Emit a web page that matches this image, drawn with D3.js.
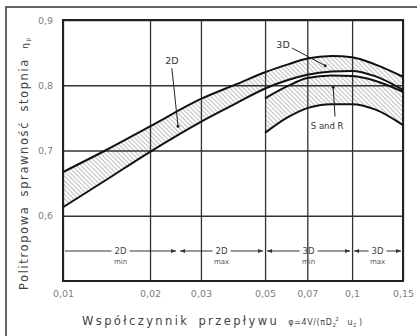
<!DOCTYPE html>
<html>
<head>
<meta charset="utf-8">
<script src="https://cdn.jsdelivr.net/npm/d3@7"></script>
<style>
	body { margin: 0; background: #fff; }
	svg { display: block; }
	text { font-family: "DejaVu Sans", sans-serif; }
</style>
</head>
<body>
<svg id="chart" width="417" height="336"></svg>
<script>
// flow coefficient values (log axis) and efficiency curves
var bandX = [0.01, 0.014, 0.02, 0.03, 0.04, 0.05, 0.06, 0.07, 0.085, 0.1, 0.12, 0.15];
var bandUpper = [0.667, 0.700, 0.737, 0.779, 0.802, 0.820, 0.832, 0.841, 0.845, 0.843, 0.832, 0.813];
var bandLower = [0.613, 0.654, 0.698, 0.744, 0.773, 0.795, 0.808, 0.816, 0.821, 0.822, 0.814, 0.793];

var srX = [0.05, 0.06, 0.07, 0.085, 0.1, 0.12, 0.15];
var srUpper = [0.780, 0.799, 0.811, 0.815, 0.814, 0.807, 0.790];
var srLower = [0.727, 0.751, 0.765, 0.771, 0.771, 0.763, 0.739];

var xTicks = [0.01, 0.02, 0.03, 0.05, 0.07, 0.1, 0.15];
var yTicks = [0.6, 0.7, 0.8, 0.9];

// ranges shown along the bottom dimension line
var rangeBounds = [0.01, 0.025, 0.05, 0.1, 0.15];
var rangeNames = ["2D", "2D", "3D", "3D"];
var rangeSubs = ["min", "max", "min", "max"];
var rangeLevel = 0.546;

// callouts: label, label pos, arrow start, arrow tip
var calloutText = ["2D", "3D", "S and R"];
var calloutLabel = [[0.0238, 0.838], [0.0577, 0.862], [0.082, 0.737]];
var calloutFrom = [[0.0238, 0.826], [0.062, 0.857], [0.0873, 0.752]];
var calloutTo = [[0.025, 0.737], [0.0807, 0.830], [0.086, 0.797]];

var svg = d3.select("#chart");
var mLeft = 63, mRight = 403, mTop = 20, mBottom = 281;

var x = d3.scaleLog().domain([0.01, 0.15]).range([mLeft, mRight]);
var y = d3.scaleLinear().domain([0.5, 0.9]).range([mBottom, mTop]);
var comma = function(d) { return String(d).replace(".", ","); };

// outer frame (top and left only)
svg.append("path")
	.attr("d", "M6,336 V7 H417")
	.attr("fill", "none")
	.attr("stroke", "#333")
	.attr("stroke-width", 1.5);

// hatch pattern
var defs = svg.append("defs");
var pat = defs.append("pattern")
	.attr("id", "hatch")
	.attr("patternUnits", "userSpaceOnUse")
	.attr("width", 3.2)
	.attr("height", 3.2)
	.attr("patternTransform", "rotate(-45)");
pat.append("line")
	.attr("x1", 1).attr("y1", 0)
	.attr("x2", 1).attr("y2", 3.2)
	.attr("stroke", "#aaa")
	.attr("stroke-width", 0.8);

defs.append("marker")
	.attr("id", "arr")
	.attr("viewBox", "0 0 10 10")
	.attr("refX", 10).attr("refY", 5)
	.attr("markerWidth", 6).attr("markerHeight", 5)
	.attr("markerUnits", "userSpaceOnUse")
	.attr("orient", "auto-start-reverse")
	.append("path")
	.attr("d", "M0,1 L10,5 L0,9 z")
	.attr("fill", "#333");

// bands
var band = d3.area()
	.x(function(d) { return x(d[0]); })
	.y0(function(d) { return y(d[2]); })
	.y1(function(d) { return y(d[1]); })
	.curve(d3.curveMonotoneX);

var bandData = bandX.map(function(v, i) { return [v, bandUpper[i], bandLower[i]]; });
var srData = srX.map(function(v, i) { return [v, srUpper[i], srLower[i]]; });

svg.append("path").attr("d", band(bandData)).attr("fill", "url(#hatch)");
svg.append("path").attr("d", band(srData)).attr("fill", "url(#hatch)");

// grid
var gy = svg.append("g")
	.attr("transform", "translate(" + mLeft + ",0)")
	.call(d3.axisLeft(y).tickValues(yTicks).tickSize(-(mRight - mLeft)).tickPadding(10).tickFormat(comma));
var gx = svg.append("g")
	.attr("transform", "translate(0," + mBottom + ")")
	.call(d3.axisBottom(x).tickValues(xTicks).tickSize(-(mBottom - mTop)).tickPadding(9).tickFormat(comma));

[gx, gy].forEach(function(g) {
	g.select(".domain").remove();
	g.selectAll(".tick line").attr("stroke", "#333").attr("stroke-width", 1.3);
	g.selectAll(".tick text")
		.attr("fill", "#808080")
		.style("font-size", "9.5px")
		.style("font-family", "DejaVu Sans, sans-serif");
});

svg.append("rect")
	.attr("x", mLeft).attr("y", mTop)
	.attr("width", mRight - mLeft).attr("height", mBottom - mTop)
	.attr("fill", "none")
	.attr("stroke", "#222")
	.attr("stroke-width", 2);

// curves
var line = d3.line()
	.x(function(d) { return x(d[0]); })
	.y(function(d) { return y(d[1]); })
	.curve(d3.curveMonotoneX);

[[bandX, bandUpper], [bandX, bandLower], [srX, srUpper], [srX, srLower]].forEach(function(c) {
	svg.append("path")
		.attr("d", line(c[0].map(function(v, i) { return [v, c[1][i]]; })))
		.attr("fill", "none")
		.attr("stroke", "#111")
		.attr("stroke-width", 2);
});

// callouts
calloutText.forEach(function(t, i) {
	svg.append("line")
		.attr("x1", x(calloutFrom[i][0])).attr("y1", y(calloutFrom[i][1]))
		.attr("x2", x(calloutTo[i][0])).attr("y2", y(calloutTo[i][1]))
		.attr("stroke", "#222").attr("stroke-width", 1);
	svg.append("circle")
		.attr("cx", x(calloutTo[i][0])).attr("cy", y(calloutTo[i][1]))
		.attr("r", 1.5).attr("fill", "#222");
	svg.append("text")
		.attr("x", x(calloutLabel[i][0])).attr("y", y(calloutLabel[i][1]))
		.attr("text-anchor", "middle")
		.attr("dy", "0.35em")
		.attr("fill", "#333")
		.style("font-size", i == 2 ? "8.5px" : "9.5px")
		.text(t);
});

// dimension line with ranges
var ly = y(rangeLevel);
rangeNames.forEach(function(name, i) {
	var x0 = x(rangeBounds[i]), x1 = x(rangeBounds[i + 1]);
	var xm = x(Math.sqrt(rangeBounds[i] * rangeBounds[i + 1]));
	var gap = 9;
	var a = svg.append("path")
		.attr("d", "M" + (xm - gap) + "," + ly + " H" + (x0 + 2))
		.attr("stroke", "#333").attr("stroke-width", 1).attr("fill", "none");
	if (i > 0) a.attr("marker-end", "url(#arr)");
	svg.append("path")
		.attr("d", "M" + (xm + gap) + "," + ly + " H" + (x1 - 2))
		.attr("stroke", "#333").attr("stroke-width", 1).attr("fill", "none")
		.attr("marker-end", "url(#arr)");
	svg.append("text")
		.attr("x", xm).attr("y", ly + 3)
		.attr("text-anchor", "middle")
		.attr("fill", "#444")
		.style("font-size", "8.5px")
		.text(name);
	svg.append("text")
		.attr("x", xm).attr("y", ly + 13)
		.attr("text-anchor", "middle")
		.attr("fill", "#555")
		.style("font-size", "7px")
		.text(rangeSubs[i]);
});

// axis titles
var yt = svg.append("text")
	.attr("transform", "translate(28,290) rotate(-90)")
	.attr("fill", "#444")
	.style("font-size", "11.5px")
	.style("letter-spacing", "1.6px")
	.style("word-spacing", "4px");
yt.append("tspan").text("Politropowa sprawność stopnia ");
yt.append("tspan").style("font-size", "9px").text("η");
yt.append("tspan").style("font-size", "6px").attr("dy", 2).text("p");

var xt = svg.append("text")
	.attr("x", 82).attr("y", 325)
	.attr("fill", "#444")
	.style("font-size", "11.5px")
	.style("letter-spacing", "2.4px")
	.style("word-spacing", "3px");
xt.append("tspan").text("Współczynnik przepływu ");
xt.append("tspan").style("font-size", "8px").style("letter-spacing", "0.6px").text("φ=4V/(πD");
xt.append("tspan").style("font-size", "5.5px").attr("dy", 2).text("2");
xt.append("tspan").style("font-size", "5.5px").attr("dx", -3).attr("dy", -6).text("2");
xt.append("tspan").style("font-size", "8px").style("letter-spacing", "0.6px").attr("dy", 4).text(" u");
xt.append("tspan").style("font-size", "5.5px").attr("dy", 2).text("2");
xt.append("tspan").style("font-size", "8px").attr("dy", -2).text(")");
</script>
</body>
</html>
